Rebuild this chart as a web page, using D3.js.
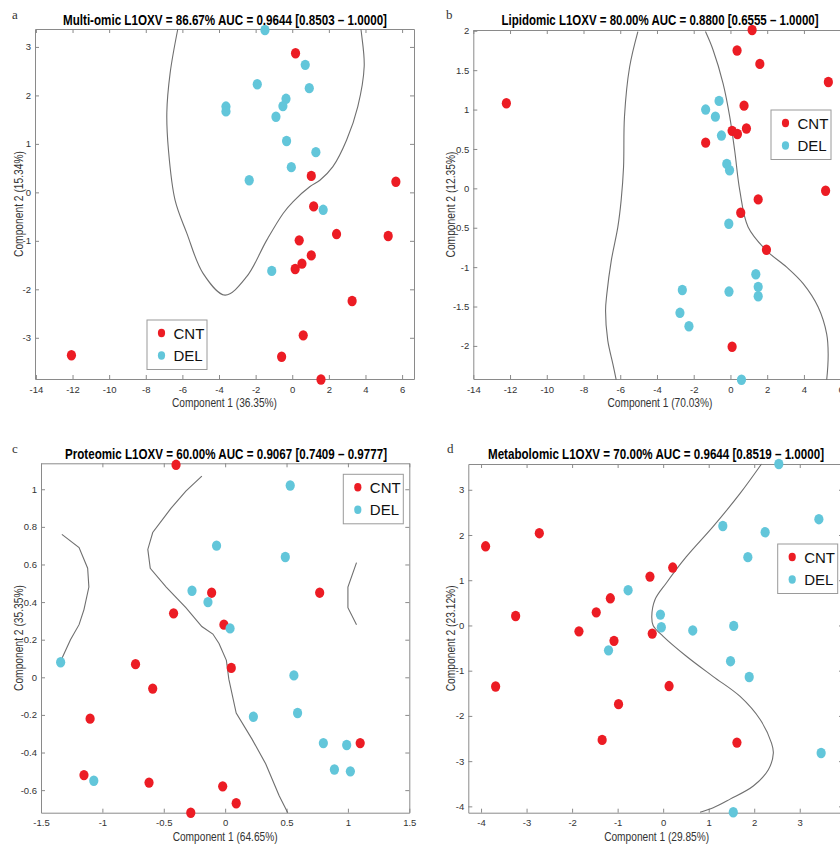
<!DOCTYPE html>
<html>
<head>
<meta charset="utf-8">
<script src="https://cdn.jsdelivr.net/npm/d3@7"></script>
<style>
  body { margin: 0; background: #fff; }
  svg { display: block; }
</style>
</head>
<body>
<svg id="chart" width="840" height="845"></svg>
<script>
// ---- data ----
var groups = ["CNT", "DEL"];

// a: multi-omic
var cntA = [[0.18,2.87],[1.04,0.34],[5.66,0.22],[1.17,-0.29],[2.42,-0.86],[5.24,-0.90],[0.38,-0.99],
  [1.04,-1.30],[0.53,-1.47],[0.16,-1.58],[3.27,-2.24],[0.6,-2.95],[-12.06,-3.36],[-0.58,-3.39],[1.57,-3.86]];
var delA = [[-1.49,3.35],[0.71,2.63],[-1.91,2.23],[0.93,2.15],[-0.34,1.93],[-0.51,1.78],[-3.62,1.77],
  [-3.62,1.67],[-0.89,1.56],[-0.31,1.06],[1.29,0.83],[-0.05,0.52],[-2.35,0.25],[1.69,-0.36],[-1.12,-1.62]];
var boundA = [[-6.25,3.37],[-6.67,2.46],[-6.85,1.64],[-6.76,0.87],[-6.40,-0.16],[-5.76,-0.84],[-4.87,-1.67],
  [-3.67,-2.12],[-2.49,-1.74],[-1.40,-0.99],[-0.49,-0.43],[0.05,-0.19],[0.97,0.12],[1.51,0.25],[2.22,0.53],
  [2.97,1.08],[3.58,1.77],[3.93,2.60],[3.79,3.25],[3.75,3.37]];

// b: lipidomic
var cntB = [[1.18,2.01],[0.36,1.75],[1.6,1.58],[5.33,1.35],[-12.2,1.08],[0.74,1.05],[0.09,0.73],[0.38,0.69],
  [0.87,0.76],[-1.35,0.58],[5.18,-0.03],[1.51,-0.14],[0.56,-0.31],[1.96,-0.78],[0.09,-2.01]];
var delB = [[-0.62,1.11],[-1.35,1.0],[-0.82,0.91],[-0.49,0.67],[-0.2,0.31],[-0.05,0.23],[-0.09,-0.45],
  [1.38,-1.09],[1.51,-1.25],[1.51,-1.37],[-2.62,-1.29],[-0.08,-1.31],[-2.75,-1.58],[-2.26,-1.75],[0.6,-2.43]];
var boundB1 = [[-5.04,1.99],[-5.49,1.54],[-5.77,0.91],[-5.82,0.27],[-5.95,-0.15],[-6.13,-0.49],[-6.49,-0.92],
  [-6.73,-1.34],[-6.80,-1.55],[-6.68,-1.93],[-6.40,-2.23],[-6.22,-2.43]];
var boundB2 = [[-1.36,1.99],[-0.95,1.76],[-0.40,1.33],[-0.04,0.91],[0.23,0.48],[0.51,-0.03],[0.96,-0.49],
  [1.96,-0.79],[3.06,-1.00],[3.96,-1.21],[4.78,-1.51],[5.24,-1.85],[5.32,-2.10],[5.24,-2.43]];

// c: proteomic
var cntC = [[-0.40,1.13],[-0.11,0.45],[0.77,0.45],[-0.42,0.34],[-0.01,0.28],[-0.73,0.07],[0.05,0.05],
  [-0.59,-0.06],[-1.10,-0.22],[1.10,-0.35],[-1.15,-0.52],[-0.62,-0.56],[-0.02,-0.58],[0.09,-0.67],[-0.28,-0.72]];
var delC = [[0.53,1.02],[-0.07,0.70],[0.49,0.64],[-0.27,0.46],[-0.14,0.40],[0.04,0.26],[-1.34,0.08],
  [0.56,0.01],[0.23,-0.21],[0.59,-0.19],[0.80,-0.35],[0.99,-0.36],[0.89,-0.49],[1.02,-0.50],[-1.07,-0.55]];
var boundC1 = [[-1.33,0.76],[-1.19,0.69],[-1.12,0.58],[-1.11,0.48],[-1.15,0.36],[-1.19,0.28],[-1.26,0.20],[-1.33,0.10]];
var boundC2 = [[-0.19,1.07],[-0.32,0.99],[-0.44,0.90],[-0.59,0.77],[-0.63,0.68],[-0.61,0.58],[-0.48,0.48],
  [-0.32,0.37],[-0.19,0.27],[-0.10,0.23],[-0.05,0.18],[0.01,0.09],[0.03,-0.01],[0.09,-0.19],[0.22,-0.33],
  [0.33,-0.46],[0.44,-0.63],[0.51,-0.72]];
var boundC3 = [[1.07,0.61],[1.0,0.48],[1.0,0.37],[1.07,0.28]];

// d: metabolomic
var cntD = [[-2.72,2.04],[-3.90,1.75],[0.21,1.28],[-0.29,1.08],[-1.16,0.60],[-1.47,0.29],[-3.24,0.21],
  [-1.85,-0.13],[-0.24,-0.18],[-1.08,-0.34],[-3.68,-1.35],[0.13,-1.34],[-0.98,-1.74],[-1.34,-2.53],[1.62,-2.59]];
var delD = [[2.54,3.57],[3.42,2.35],[1.31,2.20],[2.24,2.06],[1.86,1.51],[-0.77,0.78],[-0.06,0.24],
  [-0.04,-0.04],[0.65,-0.11],[1.55,-0.01],[-1.20,-0.55],[1.48,-0.79],[1.89,-1.14],[3.47,-2.82],[1.54,-4.13]];
var boundD = [[2.16,3.57],[1.69,2.92],[1.10,2.19],[0.51,1.52],[0.07,0.94],[-0.18,0.57],[-0.25,0.20],
  [-0.22,0.0],[0.0,-0.24],[0.51,-0.68],[1.10,-1.13],[1.69,-1.57],[2.13,-2.08],[2.38,-2.60],[2.42,-2.82],
  [2.31,-3.19],[1.98,-3.55],[1.47,-3.84],[1.10,-4.03],[0.81,-4.13]];

// tick labels
var xTicksAB = [-14,-12,-10,-8,-6,-4,-2,0,2,4,6];
var yTicksA = [-3,-2,-1,0,1,2,3];
var yTicksB = [-2,-1.5,-1,-0.5,0,0.5,1,1.5,2];
var xTicksC = [-1.5,-1,-0.5,0,0.5,1,1.5];
var yTicksC = [-0.6,-0.4,-0.2,0,0.2,0.4,0.6,0.8,1];
var xTicksD = [-4,-3,-2,-1,0,1,2,3,4];
var yTicksD = [-4,-3,-2,-1,0,1,2,3];

var RED = "#ec1c24", CYAN = "#62c6da";
var AXIS = "#8a8a8a";
var NARROW = "'Liberation Sans Narrow', 'Arial Narrow', 'Liberation Sans', Arial, sans-serif";

var svg = d3.select("#chart");

var fmt = function (d) { return String(d); };

var drawPanel = function (opt) {
    var g = svg.append("g");
    var x = d3.scaleLinear().domain(opt.xDomain).range([opt.left, opt.right]);
    var y = d3.scaleLinear().domain(opt.yDomain).range([opt.bottom, opt.top]);

    // axes, MATLAB style box with inward ticks
    var bottom = g.append("g").attr("transform", "translate(0," + opt.bottom + ")")
        .call(d3.axisBottom(x).tickValues(opt.xTicks).tickSize(-4).tickSizeOuter(0).tickPadding(7).tickFormat(fmt));
    var top = g.append("g").attr("transform", "translate(0," + opt.top + ")")
        .call(d3.axisTop(x).tickValues(opt.xTicks).tickSize(-4).tickSizeOuter(0).tickFormat(""));
    var left = g.append("g").attr("transform", "translate(" + opt.left + ",0)")
        .call(d3.axisLeft(y).tickValues(opt.yTicks).tickSize(-4).tickSizeOuter(0).tickPadding(4).tickFormat(fmt));
    var right = g.append("g").attr("transform", "translate(" + opt.right + ",0)")
        .call(d3.axisRight(y).tickValues(opt.yTicks).tickSize(-4).tickSizeOuter(0).tickFormat(""));

    [bottom, top, left, right].forEach(function (ax) {
        ax.selectAll("path, line").attr("stroke", AXIS).attr("stroke-width", 1);
        ax.selectAll("text").attr("fill", "#333").attr("font-family", NARROW).attr("font-size", 9.5);
    });

    // decision boundary
    var line = d3.line()
        .x(function (d) { return x(d[0]); })
        .y(function (d) { return y(d[1]); })
        .curve(opt.smooth ? d3.curveCatmullRom : d3.curveLinear);
    opt.bounds.forEach(function (b) {
        g.append("path").attr("d", line(b))
            .attr("fill", "none")
            .attr("stroke", "#6f6f6f")
            .attr("stroke-width", 1.1);
    });

    // points
    var sets = [{ pts: opt.cnt, col: RED }, { pts: opt.del, col: CYAN }];
    sets.forEach(function (s) {
        g.selectAll(null).data(s.pts).enter().append("ellipse")
            .attr("cx", function (d) { return x(d[0]); })
            .attr("cy", function (d) { return y(d[1]); })
            .attr("rx", 4.6)
            .attr("ry", 5.2)
            .attr("fill", s.col);
    });

    // title and panel letter
    g.append("text")
        .attr("x", opt.titleX).attr("y", opt.titleY)
        .attr("text-anchor", "middle")
        .attr("font-family", NARROW)
        .attr("font-weight", "bold")
        .attr("font-size", 14.5)
        .attr("textLength", opt.titleW)
        .attr("lengthAdjust", "spacingAndGlyphs")
        .text(opt.title);
    g.append("text")
        .attr("x", opt.letterX).attr("y", opt.titleY - 6)
        .attr("font-family", "'Liberation Serif', 'DejaVu Serif', serif")
        .attr("font-size", 13)
        .attr("fill", "#333")
        .text(opt.letter);

    // axis labels
    g.append("text")
        .attr("x", (opt.left + Math.min(opt.right, 840 + (opt.right - 840))) / 2 + opt.xLabelShift)
        .attr("y", opt.bottom + 28)
        .attr("text-anchor", "middle")
        .attr("font-family", NARROW)
        .attr("font-size", 13)
        .attr("fill", "#333")
        .attr("textLength", 105)
        .attr("lengthAdjust", "spacingAndGlyphs")
        .text(opt.xLabel);
    g.append("text")
        .attr("transform", "translate(" + opt.yLabelX + "," + ((opt.top + opt.bottom) / 2) + ") rotate(-90)")
        .attr("text-anchor", "middle")
        .attr("font-family", NARROW)
        .attr("font-size", 13)
        .attr("fill", "#333")
        .attr("textLength", 106)
        .attr("lengthAdjust", "spacingAndGlyphs")
        .text(opt.yLabel);

    // legend
    var lg = g.append("g").attr("transform", "translate(" + opt.legend[0] + "," + opt.legend[1] + ")");
    lg.append("rect")
        .attr("width", 60).attr("height", 49.5)
        .attr("fill", "#fff")
        .attr("stroke", "#9a9a9a")
        .attr("stroke-width", 1);
    groups.forEach(function (name, i) {
        lg.append("ellipse")
            .attr("cx", 14.5).attr("cy", 13 + i * 22.5)
            .attr("rx", 3.6).attr("ry", 4.2)
            .attr("fill", i === 0 ? RED : CYAN);
        lg.append("text")
            .attr("x", 26.5).attr("y", 18.5 + i * 22.5)
            .attr("font-family", "'Liberation Sans', Arial, sans-serif")
            .attr("font-size", 15)
            .attr("fill", "#111")
            .text(name);
    });
};

drawPanel({
    left: 35, right: 414, top: 29, bottom: 379,
    xDomain: [-14.05, 6.65], yDomain: [-3.85, 3.37],
    xTicks: xTicksAB, yTicks: yTicksA,
    cnt: cntA, del: delA, bounds: [boundA], smooth: true,
    title: "Multi-omic L1OXV = 86.67% AUC = 0.9644 [0.8503 \u2013 1.0000]",
    titleX: 225, titleY: 25, titleW: 324, letter: "a", letterX: 12,
    xLabel: "Component 1 (36.35%)", xLabelShift: 0, yLabel: "Component 2 (15.34%)", yLabelX: 22.5,
    legend: [147, 320]
});

drawPanel({
    left: 473.3, right: 852.6, top: 30, bottom: 379,
    xDomain: [-14, 6.65], yDomain: [-2.42, 2.01],
    xTicks: xTicksAB, yTicks: yTicksB,
    cnt: cntB, del: delB, bounds: [boundB1, boundB2], smooth: true,
    title: "Lipidomic L1OXV = 80.00% AUC = 0.8800 [0.6555 \u2013 1.0000]",
    titleX: 660, titleY: 25, titleW: 317, letter: "b", letterX: 446,
    xLabel: "Component 1 (70.03%)", xLabelShift: -3, yLabel: "Component 2 (12.35%)", yLabelX: 455,
    legend: [771, 110]
});

drawPanel({
    left: 41, right: 409.3, top: 463.3, bottom: 812.7,
    xDomain: [-1.5, 1.5], yDomain: [-0.72, 1.138],
    xTicks: xTicksC, yTicks: yTicksC,
    cnt: cntC, del: delC, bounds: [boundC1, boundC2, boundC3], smooth: false,
    title: "Proteomic L1OXV = 60.00% AUC = 0.9067 [0.7409 \u2013 0.9777]",
    titleX: 226, titleY: 459, titleW: 322, letter: "c", letterX: 12,
    xLabel: "Component 1 (64.65%)", xLabelShift: 0, yLabel: "Component 2 (35.35%)", yLabelX: 22.5,
    legend: [343.3, 474.3]
});

drawPanel({
    left: 468.3, right: 843, top: 464, bottom: 812.7,
    xDomain: [-4.28, 3.95], yDomain: [-4.14, 3.57],
    xTicks: xTicksD, yTicks: yTicksD,
    cnt: cntD, del: delD, bounds: [boundD], smooth: true,
    title: "Metabolomic L1OXV = 70.00% AUC = 0.9644 [0.8519 \u2013 1.0000]",
    titleX: 656, titleY: 459, titleW: 336, letter: "d", letterX: 447,
    xLabel: "Component 1 (29.85%)", xLabelShift: 1, yLabel: "Component 2 (23.12%)", yLabelX: 455,
    legend: [777.7, 544]
});
</script>
</body>
</html>
